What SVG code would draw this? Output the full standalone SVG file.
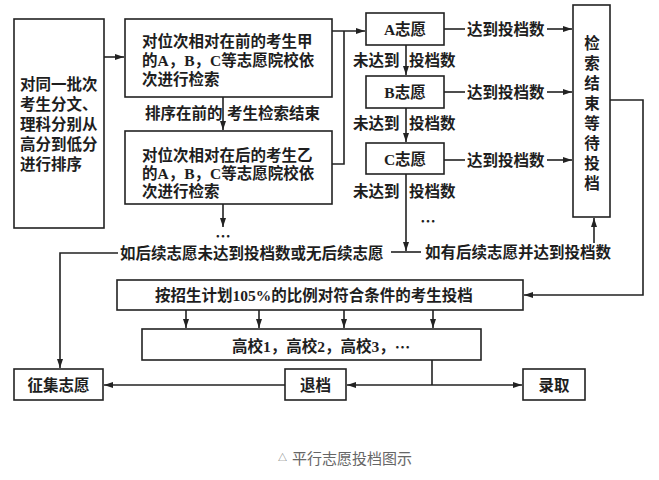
<svg xmlns="http://www.w3.org/2000/svg" width="659" height="480" viewBox="0 0 659 480">
<style>
.b{fill:#fff;stroke:#222;stroke-width:1.6}
.t{font-family:"Liberation Serif","Noto Sans CJK SC",serif;font-size:15.5px;font-weight:bold;fill:#1e1e1e;dominant-baseline:central}
.c{text-anchor:middle}
.d{font-family:"Noto Sans CJK SC",sans-serif}
.l{fill:none;stroke:#222;stroke-width:1.6}
.cap{font-family:"Noto Sans CJK SC","Noto Sans",sans-serif;font-size:15px;fill:#666;dominant-baseline:central}
.tri{font-size:9px}
</style>
<defs>
<marker id="a" markerUnits="userSpaceOnUse" markerWidth="10" markerHeight="8" refX="9" refY="3" orient="auto">
<path d="M0,0 L9,3 L0,6 z" fill="#222"/>
</marker>
</defs>
<rect width="659" height="480" fill="#fff"/>
<g id="connectors">
<path class="l" d="M104,57 H124" marker-end="url(#a)"/>
<path class="l" d="M223,97 V130" marker-end="url(#a)"/>
<path class="l" d="M223,204 V227" marker-end="url(#a)"/>
<path class="l" d="M332,31 H365" marker-end="url(#a)"/>
<path class="l" d="M332,164 H344 V31"/>
<path class="l" d="M406,45 V75" marker-end="url(#a)"/>
<path class="l" d="M406,108 V142" marker-end="url(#a)"/>
<path class="l" d="M406,174 V251" marker-end="url(#a)"/>
<path class="l" d="M444,29 H465"/>
<path class="l" d="M547,29 H572" marker-end="url(#a)"/>
<path class="l" d="M444,92 H465"/>
<path class="l" d="M547,92 H572" marker-end="url(#a)"/>
<path class="l" d="M444,160 H465"/>
<path class="l" d="M547,160 H572" marker-end="url(#a)"/>
<path class="l" d="M610,100 H643 V295 H524" marker-end="url(#a)"/>
<path class="l" d="M594,243 V218" marker-end="url(#a)"/>
<path class="l" d="M391,252 H421"/>
<path class="l" d="M118,253 H60 V368" marker-end="url(#a)"/>
<path class="l" d="M186,310 V328" marker-end="url(#a)"/>
<path class="l" d="M259,310 V328" marker-end="url(#a)"/>
<path class="l" d="M344,310 V328" marker-end="url(#a)"/>
<path class="l" d="M433,310 V328" marker-end="url(#a)"/>
<path class="l" d="M432,360 V385"/>
<path class="l" d="M432,385 H347" marker-end="url(#a)"/>
<path class="l" d="M432,385 H522" marker-end="url(#a)"/>
<path class="l" d="M285,385 H104" marker-end="url(#a)"/>
<text class="t" x="145" y="113">排序在前的</text>
<text class="t" x="227" y="113">考生检索结束</text>
<text class="t" x="353" y="60">未达到</text>
<text class="t" x="409" y="60">投档数</text>
<text class="t" x="353" y="123">未达到</text>
<text class="t" x="409" y="123">投档数</text>
<text class="t" x="353" y="191">未达到</text>
<text class="t" x="409" y="191">投档数</text>
<text class="t" x="467" y="29">达到投档数</text>
<text class="t" x="467" y="92">达到投档数</text>
<text class="t" x="467" y="160">达到投档数</text>
<text class="t c d" x="223" y="235">…</text>
<text class="t c d" x="428" y="220">…</text>
<text class="t" x="120" y="253">如后续志愿未达到投档数或无后续志愿</text>
<text class="t" x="425" y="252">如有后续志愿并达到投档数</text>
</g>
<g id="sort">
<rect class="b" x="14" y="19" width="90" height="209"/>
<text class="t" x="20" y="84">对同一批次</text>
<text class="t" x="20" y="104">考生分文、</text>
<text class="t" x="20" y="124">理科分别从</text>
<text class="t" x="20" y="144">高分到低分</text>
<text class="t" x="20" y="164">进行排序</text>
</g>
<g id="front">
<rect class="b" x="125" y="19" width="207" height="78"/>
<text class="t" x="142" y="41">对位次相对在前的考生甲</text>
<text class="t" x="142" y="60">的A，B，C等志愿院校依</text>
<text class="t" x="142" y="79">次进行检索</text>
</g>
<g id="back">
<rect class="b" x="125" y="131" width="207" height="73"/>
<text class="t" x="142" y="155">对位次相对在后的考生乙</text>
<text class="t" x="142" y="173">的A，B，C等志愿院校依</text>
<text class="t" x="142" y="191">次进行检索</text>
</g>
<g id="A">
<rect class="b" x="366" y="13" width="78" height="32"/>
<text class="t c" x="405" y="29">A志愿</text>
</g>
<g id="B">
<rect class="b" x="366" y="76" width="78" height="32"/>
<text class="t c" x="405" y="92">B志愿</text>
</g>
<g id="C">
<rect class="b" x="366" y="143" width="78" height="31"/>
<text class="t c" x="405" y="159">C志愿</text>
</g>
<g id="wait">
<rect class="b" x="573" y="5" width="37" height="212"/>
<text class="t c" x="592" y="43">检</text>
<text class="t c" x="592" y="63">索</text>
<text class="t c" x="592" y="83">结</text>
<text class="t c" x="592" y="103">束</text>
<text class="t c" x="592" y="123">等</text>
<text class="t c" x="592" y="143">待</text>
<text class="t c" x="592" y="163">投</text>
<text class="t c" x="592" y="183">档</text>
</g>
<g id="plan">
<rect class="b" x="117" y="280" width="406" height="30"/>
<text class="t" x="155" y="295">按招生计划105%的比例对符合条件的考生投档</text>
</g>
<g id="schools">
<rect class="b" x="142" y="329" width="339" height="31"/>
<text class="t" x="232" y="346">高校1，高校2，高校3，<tspan class="d">…</tspan></text>
</g>
<g id="collect">
<rect class="b" x="14" y="369" width="89" height="31"/>
<text class="t c" x="58.5" y="385">征集志愿</text>
</g>
<g id="reject">
<rect class="b" x="285" y="369" width="61" height="31"/>
<text class="t c" x="315.5" y="385">退档</text>
</g>
<g id="admit">
<rect class="b" x="523" y="369" width="62" height="31"/>
<text class="t c" x="554" y="385">录取</text>
</g>
<g id="caption">
<text class="cap tri" x="278" y="457">△</text>
<text class="cap" x="292" y="457">平行志愿投档图示</text>
</g>
</svg>
